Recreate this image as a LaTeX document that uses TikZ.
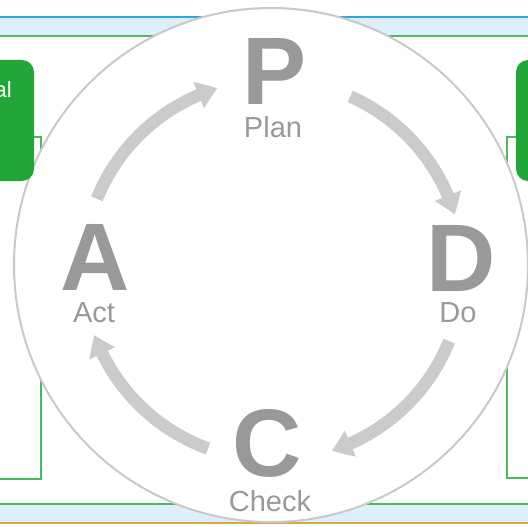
\documentclass[tikz,border=0pt]{standalone}
\usepackage{fontspec}
\setmainfont{Liberation Sans}
\usetikzlibrary{arrows.meta,bending}
\definecolor{bandblue}{HTML}{DDEFFA}
\definecolor{lineblue}{HTML}{2AA7DF}
\definecolor{linegreen}{HTML}{4DB85E}
\definecolor{lineorange}{HTML}{DCA54A}
\definecolor{boxgreen}{HTML}{21A637}
\definecolor{ringgray}{HTML}{C9C9C9}
\definecolor{arrowgray}{HTML}{CBCBCB}
\definecolor{lettergray}{HTML}{999999}
\tikzset{
  band/.style={fill=bandblue, draw=none},
  outlinebox/.style={draw=linegreen, line width=1.2pt},
  greenbox/.style={fill=boxgreen, rounded corners=12pt},
  ring/.style={draw=ringgray, fill=white, line width=2pt},
  cyclearrow/.style={draw=arrowgray, line width=12.5pt, -{Triangle[bend,width=27pt,length=20pt]}},
  bigletter/.style={text=lettergray, font=\bfseries\fontsize{96}{96}\selectfont, anchor=base, inner sep=0pt, text height=70pt, text depth=0pt},
  steplabel/.style={text=lettergray, font=\fontsize{29}{29}\selectfont, anchor=base, inner sep=0pt, text height=21pt, text depth=1pt},
  boxtext/.style={text=white, font=\fontsize{22}{22}\selectfont, anchor=base east, inner sep=0pt}
}
\begin{document}
\begin{tikzpicture}[x=1pt,y=-1pt]
\useasboundingbox (0,0) rectangle (528,527);
\clip (0,0) rectangle (528,527);
% bands
\fill[band] (-5,17) rectangle (535,36);
\draw[lineblue, line width=1.5pt] (-5,17) -- (535,17);
\draw[linegreen, line width=1.5pt] (-5,36) -- (535,36);
\fill[band] (-5,504) rectangle (535,523);
\draw[linegreen, line width=1.5pt] (-5,504) -- (535,504);
\draw[lineorange, line width=2pt] (-5,523) -- (535,523);
% thin outline boxes
\draw[outlinebox] (-10,137) rectangle (41,479);
\draw[outlinebox] (507,137) rectangle (540,478);
% big circle
\coordinate (ringc) at (271,265);
\draw[ring] (ringc) circle[radius=257];
% green boxes
\fill[greenbox] (-30,60) rectangle (34,181);
\fill[greenbox] (516,60) rectangle (560,181);
\node[boxtext] (lefttext) at (12,98) {al};
% arrows
\coordinate (arrc) at (273,270);
\draw[cyclearrow] (arrc) ++(202:190) arc[start angle=202, end angle=253, radius=190];
\draw[cyclearrow] (arrc) ++(294:190) arc[start angle=294, end angle=343, radius=190];
\draw[cyclearrow] (arrc) ++(22:190) arc[start angle=22, end angle=72, radius=190];
\draw[cyclearrow] (arrc) ++(110:190) arc[start angle=110, end angle=160, radius=190];
% letters
\node[bigletter] (P) at (275,105) {P};
\node[steplabel] (plan) at (273,137) {Plan};
\node[bigletter] (D) at (461,291) {D};
\node[steplabel] (do) at (458,322) {Do};
\node[bigletter] (A) at (95,290) {A};
\node[steplabel] (act) at (94,322) {Act};
\node[bigletter] (C) at (267,476) {C};
\node[steplabel] (check) at (270,511) {Check};
\end{tikzpicture}
\end{document}
